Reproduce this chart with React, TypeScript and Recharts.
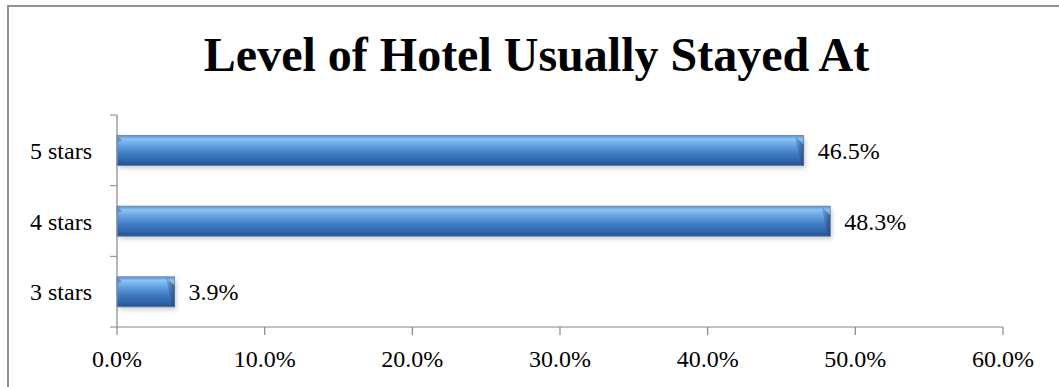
import { BarChart, Bar, XAxis, YAxis, LabelList } from 'recharts'

const categories = ['5 stars', '4 stars', '3 stars']
const shares = [46.5, 48.3, 3.9]
const xTicks = [0, 10, 20, 30, 40, 50, 60]

const data = categories.map((name, i) => ({ name, value: shares[i] }))

const FONT = '"Liberation Serif", "Times New Roman", serif'
const AXIS_COLOR = '#868686'

// Excel-style pipe bar: vertical gradient, bevelled right end, soft shadow
function PipeBar(props: any) {
  const { x, y, width, height } = props
  if (!width || width <= 0) return null
  const b = Math.min(9, width / 2)
  return (
    <g>
      <rect x={x + 2} y={y + 3} width={width} height={height} fill="#000" opacity={0.18} filter="url(#barShadow)" />
      <rect x={x} y={y} width={width} height={height} fill="url(#pipeGrad)" stroke="#5d7ea6" strokeWidth={0.8} />
      <polygon
        points={`${x + width - b},${y} ${x + width},${y + b} ${x + width},${y + height} ${x + width - 2},${y + height}`}
        fill="url(#endGrad)"
        opacity={0.75}
      />
      <polygon points={`${x},${y} ${x + 5},${y + 5} ${x},${y + 7}`} fill="#2f5f9c" opacity={0.45} />
    </g>
  )
}

// category label plus Excel-style tick marks at band boundaries
function CategoryTick(props: any) {
  const { x, y, payload, index, height, visibleTicksCount } = props
  const band = height / visibleTicksCount
  const axisX = x + 25
  return (
    <g>
      <line x1={axisX - 7} x2={axisX} y1={y - band / 2} y2={y - band / 2} stroke={AXIS_COLOR} />
      {index === visibleTicksCount - 1 && (
        <line x1={axisX - 7} x2={axisX} y1={y + band / 2} y2={y + band / 2} stroke={AXIS_COLOR} />
      )}
      <text x={x} y={y} dy="0.355em" textAnchor="end" fontSize={24} fontFamily={FONT} fill="#000">
        {payload.value}
      </text>
    </g>
  )
}

export default function App() {
  return (
    <div style={{ position: 'absolute', left: 0, top: 0, width: 1059, height: 387, background: '#fff', overflow: 'hidden' }}>
      <div
        style={{
          position: 'absolute',
          left: 7,
          top: 5,
          width: 1100,
          height: 450,
          border: '2px solid #929292',
          boxSizing: 'border-box'
        }}
      />
      <div
        style={{
          position: 'absolute',
          left: 0,
          top: 27,
          width: 1073,
          textAlign: 'center',
          fontFamily: FONT,
          fontWeight: 'bold',
          fontSize: 48,
          lineHeight: '55px',
          color: '#000'
        }}
      >
        Level of Hotel Usually Stayed At
      </div>
      <div style={{ position: 'absolute', left: 0, top: 0 }}>
        <BarChart
          width={1059}
          height={387}
          data={data}
          layout="vertical"
          margin={{ top: 115, right: 56, bottom: 0, left: 0 }}
          barCategoryGap="29%"
        >
          <defs>
            <linearGradient id="pipeGrad" x1="0" y1="0" x2="0" y2="1">
              <stop offset="0%" stopColor="#5a93d4" />
              <stop offset="12%" stopColor="#8cc3f3" />
              <stop offset="30%" stopColor="#6aa6e4" />
              <stop offset="60%" stopColor="#3f7cc4" />
              <stop offset="85%" stopColor="#2f65a8" />
              <stop offset="100%" stopColor="#24508a" />
            </linearGradient>
            <linearGradient id="endGrad" x1="0" y1="0" x2="1" y2="0">
              <stop offset="0%" stopColor="#2c5a96" stopOpacity={0.2} />
              <stop offset="100%" stopColor="#244c82" />
            </linearGradient>
            <filter id="barShadow" x="-5%" y="-30%" width="110%" height="160%">
              <feGaussianBlur stdDeviation="2" />
            </filter>
          </defs>
          <XAxis
            type="number"
            domain={[0, 60]}
            ticks={xTicks}
            interval={0}
            tickFormatter={(v: number) => `${v.toFixed(1)}%`}
            axisLine={{ stroke: AXIS_COLOR, strokeWidth: 1.2 }}
            tickLine={{ stroke: AXIS_COLOR, strokeWidth: 1.2 }}
            tickSize={8}
            tickMargin={15}
            height={60}
            tick={{ fontSize: 24, fontFamily: FONT, fill: '#000' }}
          />
          <YAxis
            type="category"
            dataKey="name"
            width={117}
            axisLine={{ stroke: AXIS_COLOR, strokeWidth: 1.2 }}
            tickLine={false}
            tickSize={7}
            tickMargin={18}
            tick={<CategoryTick />}
          />
          <Bar dataKey="value" shape={<PipeBar />} isAnimationActive={false}>
            <LabelList
              dataKey="value"
              position="right"
              offset={14}
              formatter={(v: any) => `${Number(v).toFixed(1)}%`}
              style={{ fontSize: 24, fontFamily: FONT, fill: '#000' }}
            />
          </Bar>
        </BarChart>
      </div>
    </div>
  )
}
